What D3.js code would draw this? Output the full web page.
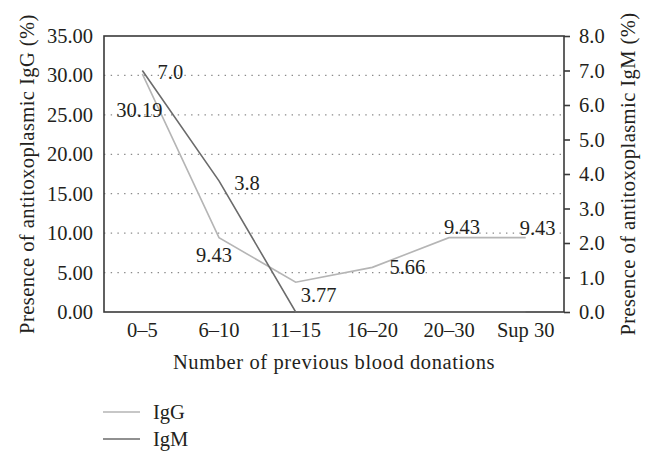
<!DOCTYPE html>
<html><head><meta charset="utf-8">
<script src="https://cdn.jsdelivr.net/npm/d3@7"></script>
<style>
html,body{margin:0;padding:0;background:#fff;}
</style></head>
<body>
<svg id="chart" width="654" height="464" font-family="'Liberation Serif', 'DejaVu Serif', serif"></svg>
<script>
const categories = ["0\u20135","6\u201310","11\u201315","16\u201320","20\u201330","Sup 30"];
const iggValues = [30.19, 9.43, 3.77, 5.66, 9.43, 9.43];
const igmValues = [7.0, 3.8, 0, 0, 0, 0];
const iggLabels = ["30.19","9.43","3.77","5.66","9.43","9.43"];
const igmLabels = ["7.0","3.8"];
const leftTicks = [0,5,10,15,20,25,30,35];
const rightTicks = [0,1,2,3,4,5,6,7,8];

// label offsets (layout only)
const iggLabelOffsets = [[-3,36],[-5,17],[23,13],[35,0],[13,-11],[12,-10]];
const igmLabelOffsets = [[28,1],[28,2]];

const FONT = "'Liberation Serif', 'DejaVu Serif', serif";
const FS = "20.5px";
const svg = d3.select("#chart");
const m = {left:104, right:92, top:36, bottom:152};
const W = 654, H = 464;
const x0 = m.left, x1 = W - m.right + 2, y0 = H - m.bottom, y1 = m.top;

const x = d3.scaleBand().domain(categories).range([x0, x1]);
const xc = d => x(d) + x.bandwidth()/2;
const yL = d3.scaleLinear().domain([0,35]).range([y0, y1]);
const yR = d3.scaleLinear().domain([0,8]).range([y0, y1]);

function styleText(sel){ sel.attr("font-family", FONT).style("font-family", FONT).style("font-size", FS).attr("fill","#231f20"); }

// gridlines
svg.append("g").selectAll("line").data(leftTicks.filter(t => t>0 && t<35)).join("line")
  .attr("x1", x0).attr("x2", x1)
  .attr("y1", d => yL(d)).attr("y2", d => yL(d))
  .attr("stroke", "#8a8a8a").attr("stroke-width", 1.3)
  .attr("stroke-dasharray", "1.4 5.3");

// left axis
const gL = svg.append("g").attr("transform", `translate(${x0},0)`)
  .call(d3.axisLeft(yL).tickValues(leftTicks).tickFormat(d3.format(".2f")).tickSize(0).tickPadding(11));
gL.attr("font-family", null).attr("font-size", null);
gL.select(".domain").remove();
gL.selectAll("text").call(styleText);

// right axis
const gR = svg.append("g").attr("transform", `translate(${x1},0)`)
  .call(d3.axisRight(yR).tickValues(rightTicks).tickFormat(d3.format(".1f")).tickSize(6).tickPadding(9));
gR.attr("font-family", null).attr("font-size", null);
gR.select(".domain").remove();
gR.selectAll("line").attr("stroke","#3a3a3a").attr("stroke-width",1.6);
gR.selectAll("text").call(styleText);

// bottom axis labels
const gB = svg.append("g").attr("transform", `translate(0,${y0})`)
  .call(d3.axisBottom(x).tickSize(0).tickPadding(10.5));
gB.attr("font-family", null).attr("font-size", null);
gB.select(".domain").remove();
gB.selectAll("text").call(styleText);

// frame
svg.append("rect").attr("x", x0).attr("y", y1).attr("width", x1-x0).attr("height", y0-y1)
  .attr("fill","none").attr("stroke","#3a3a3a").attr("stroke-width",1.6);

// lines
const lineL = d3.line().x((d,i) => xc(categories[i])).y(d => yL(d));
const lineR = d3.line().x((d,i) => xc(categories[i])).y(d => yR(d));
svg.append("path").datum(iggValues).attr("d", lineL)
  .attr("fill","none").attr("stroke","#b5b5b5").attr("stroke-width",1.6);
svg.append("path").datum(igmValues).attr("d", lineR)
  .attr("fill","none").attr("stroke","#6b6b6b").attr("stroke-width",1.6);

// data labels
svg.append("g").selectAll("text").data(iggLabels).join("text")
  .attr("x", (d,i) => xc(categories[i]) + iggLabelOffsets[i][0])
  .attr("y", (d,i) => yL(iggValues[i]) + iggLabelOffsets[i][1])
  .attr("text-anchor","middle").attr("dominant-baseline","central")
  .call(styleText).text(d => d);
svg.append("g").selectAll("text").data(igmLabels).join("text")
  .attr("x", (d,i) => xc(categories[i]) + igmLabelOffsets[i][0])
  .attr("y", (d,i) => yR(igmValues[i]) + igmLabelOffsets[i][1])
  .attr("text-anchor","middle").attr("dominant-baseline","central")
  .call(styleText).text(d => d);

// axis titles
svg.append("text").attr("transform", `translate(27,${(y0+y1)/2}) rotate(-90)`)
  .attr("text-anchor","middle").attr("dominant-baseline","central")
  .call(styleText).style("letter-spacing","0.45px").text("Presence of antitoxoplasmic IgG (%)");
svg.append("text").attr("transform", `translate(628,${(y0+y1)/2}) rotate(-90)`)
  .attr("text-anchor","middle").attr("dominant-baseline","central")
  .call(styleText).style("letter-spacing","0.45px").text("Presence of antitoxoplasmic IgM (%)");
svg.append("text").attr("x", (x0+x1)/2).attr("y", 362)
  .attr("text-anchor","middle").attr("dominant-baseline","central")
  .call(styleText).style("letter-spacing","0.6px").text("Number of previous blood donations");

// legend
const legend = [{name:"IgG", color:"#b5b5b5"},{name:"IgM", color:"#6b6b6b"}];
const lg = svg.append("g").selectAll("g").data(legend).join("g")
  .attr("transform", (d,i) => `translate(103,${412 + i*27})`);
lg.append("line").attr("x1",0).attr("x2",37).attr("y1",0).attr("y2",0)
  .attr("stroke", d => d.color).attr("stroke-width",1.6);
lg.append("text").attr("x",50).attr("y",0).attr("dominant-baseline","central")
  .call(styleText).text(d => d.name);
</script>
</body></html>
